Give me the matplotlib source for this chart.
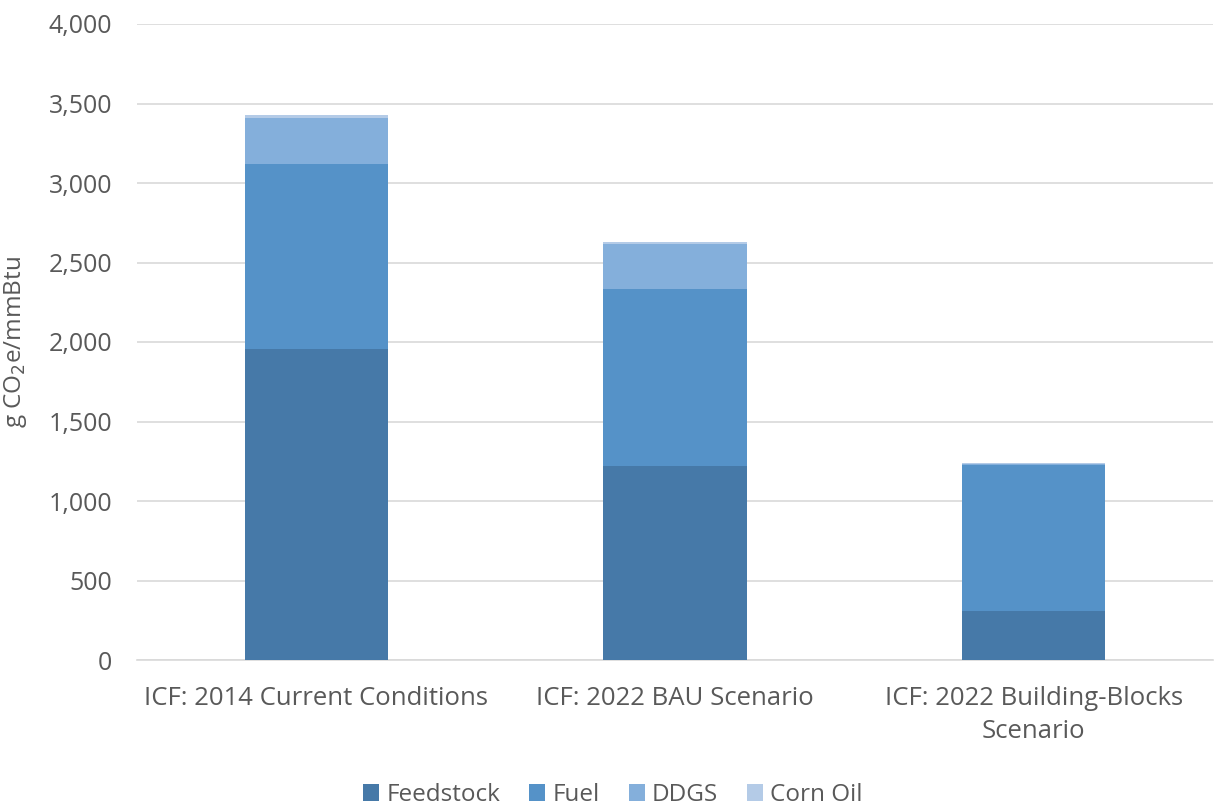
import matplotlib
matplotlib.use("Agg")
import matplotlib.pyplot as plt
import numpy as np
from matplotlib.ticker import FuncFormatter, MultipleLocator

categories = ["ICF: 2014 Current Conditions", "ICF: 2022 BAU Scenario",
              "ICF: 2022 Building-Blocks\nScenario"]
series_names = ["Feedstock", "Fuel", "DDGS", "Corn Oil"]
feedstock = [1958, 1217, 310]
fuel = [1162, 1117, 918]
ddgs = [286, 285, 7]
corn_oil = [22, 10, 3]
colors = ["#4679a8", "#5592c8", "#84afdb", "#b4cbe7"]

plt.rcParams['font.family'] = ['Open Sans', 'DejaVu Sans']
fig = plt.figure(figsize=(12.14, 8.09), dpi=100)
ax = fig.add_axes([137/1214, 1-660/809, (1213-137)/1214, (660-24)/809])

x = np.arange(len(categories))
bottom = np.zeros(len(categories))
for name, vals, c in zip(series_names, [feedstock, fuel, ddgs, corn_oil], colors):
    ax.bar(x, vals, width=0.40, bottom=bottom, color=c, label=name, zorder=3)
    bottom += np.array(vals)

ax.set_xlim(-0.5, 2.5)
ax.set_ylim(0, 4000)
ax.yaxis.set_major_locator(MultipleLocator(500))
ax.yaxis.set_major_formatter(FuncFormatter(lambda v, p: f"{int(v):,}"))
ax.grid(axis='y', color='#d9d9d9', linewidth=1.2, zorder=0)
for s in ['top', 'right', 'left']:
    ax.spines[s].set_visible(False)
ax.spines['bottom'].set_color('#d9d9d9')
ax.spines['bottom'].set_linewidth(1.2)
ax.tick_params(axis='both', length=0, colors='#595959')
ax.tick_params(axis='y', pad=18, labelsize=18)
ax.tick_params(axis='x', pad=19)
ax.set_xticks(x)
ax.set_xticklabels(categories, fontsize=18.5, color='#595959', linespacing=1.4)
ax.set_ylabel("g CO$_2$e/mmBtu", fontsize=17.5, color='#595959', labelpad=14)

handles, labels = ax.get_legend_handles_labels()
fig.legend(handles, labels, loc='center', bbox_to_anchor=(0.505, 1-795/809), ncol=4,
           frameon=False, fontsize=17.5, labelcolor='#595959', handlelength=0.65,
           handleheight=0.65, handletextpad=0.3, columnspacing=1.2)

fig.savefig("out.png", dpi=100)
